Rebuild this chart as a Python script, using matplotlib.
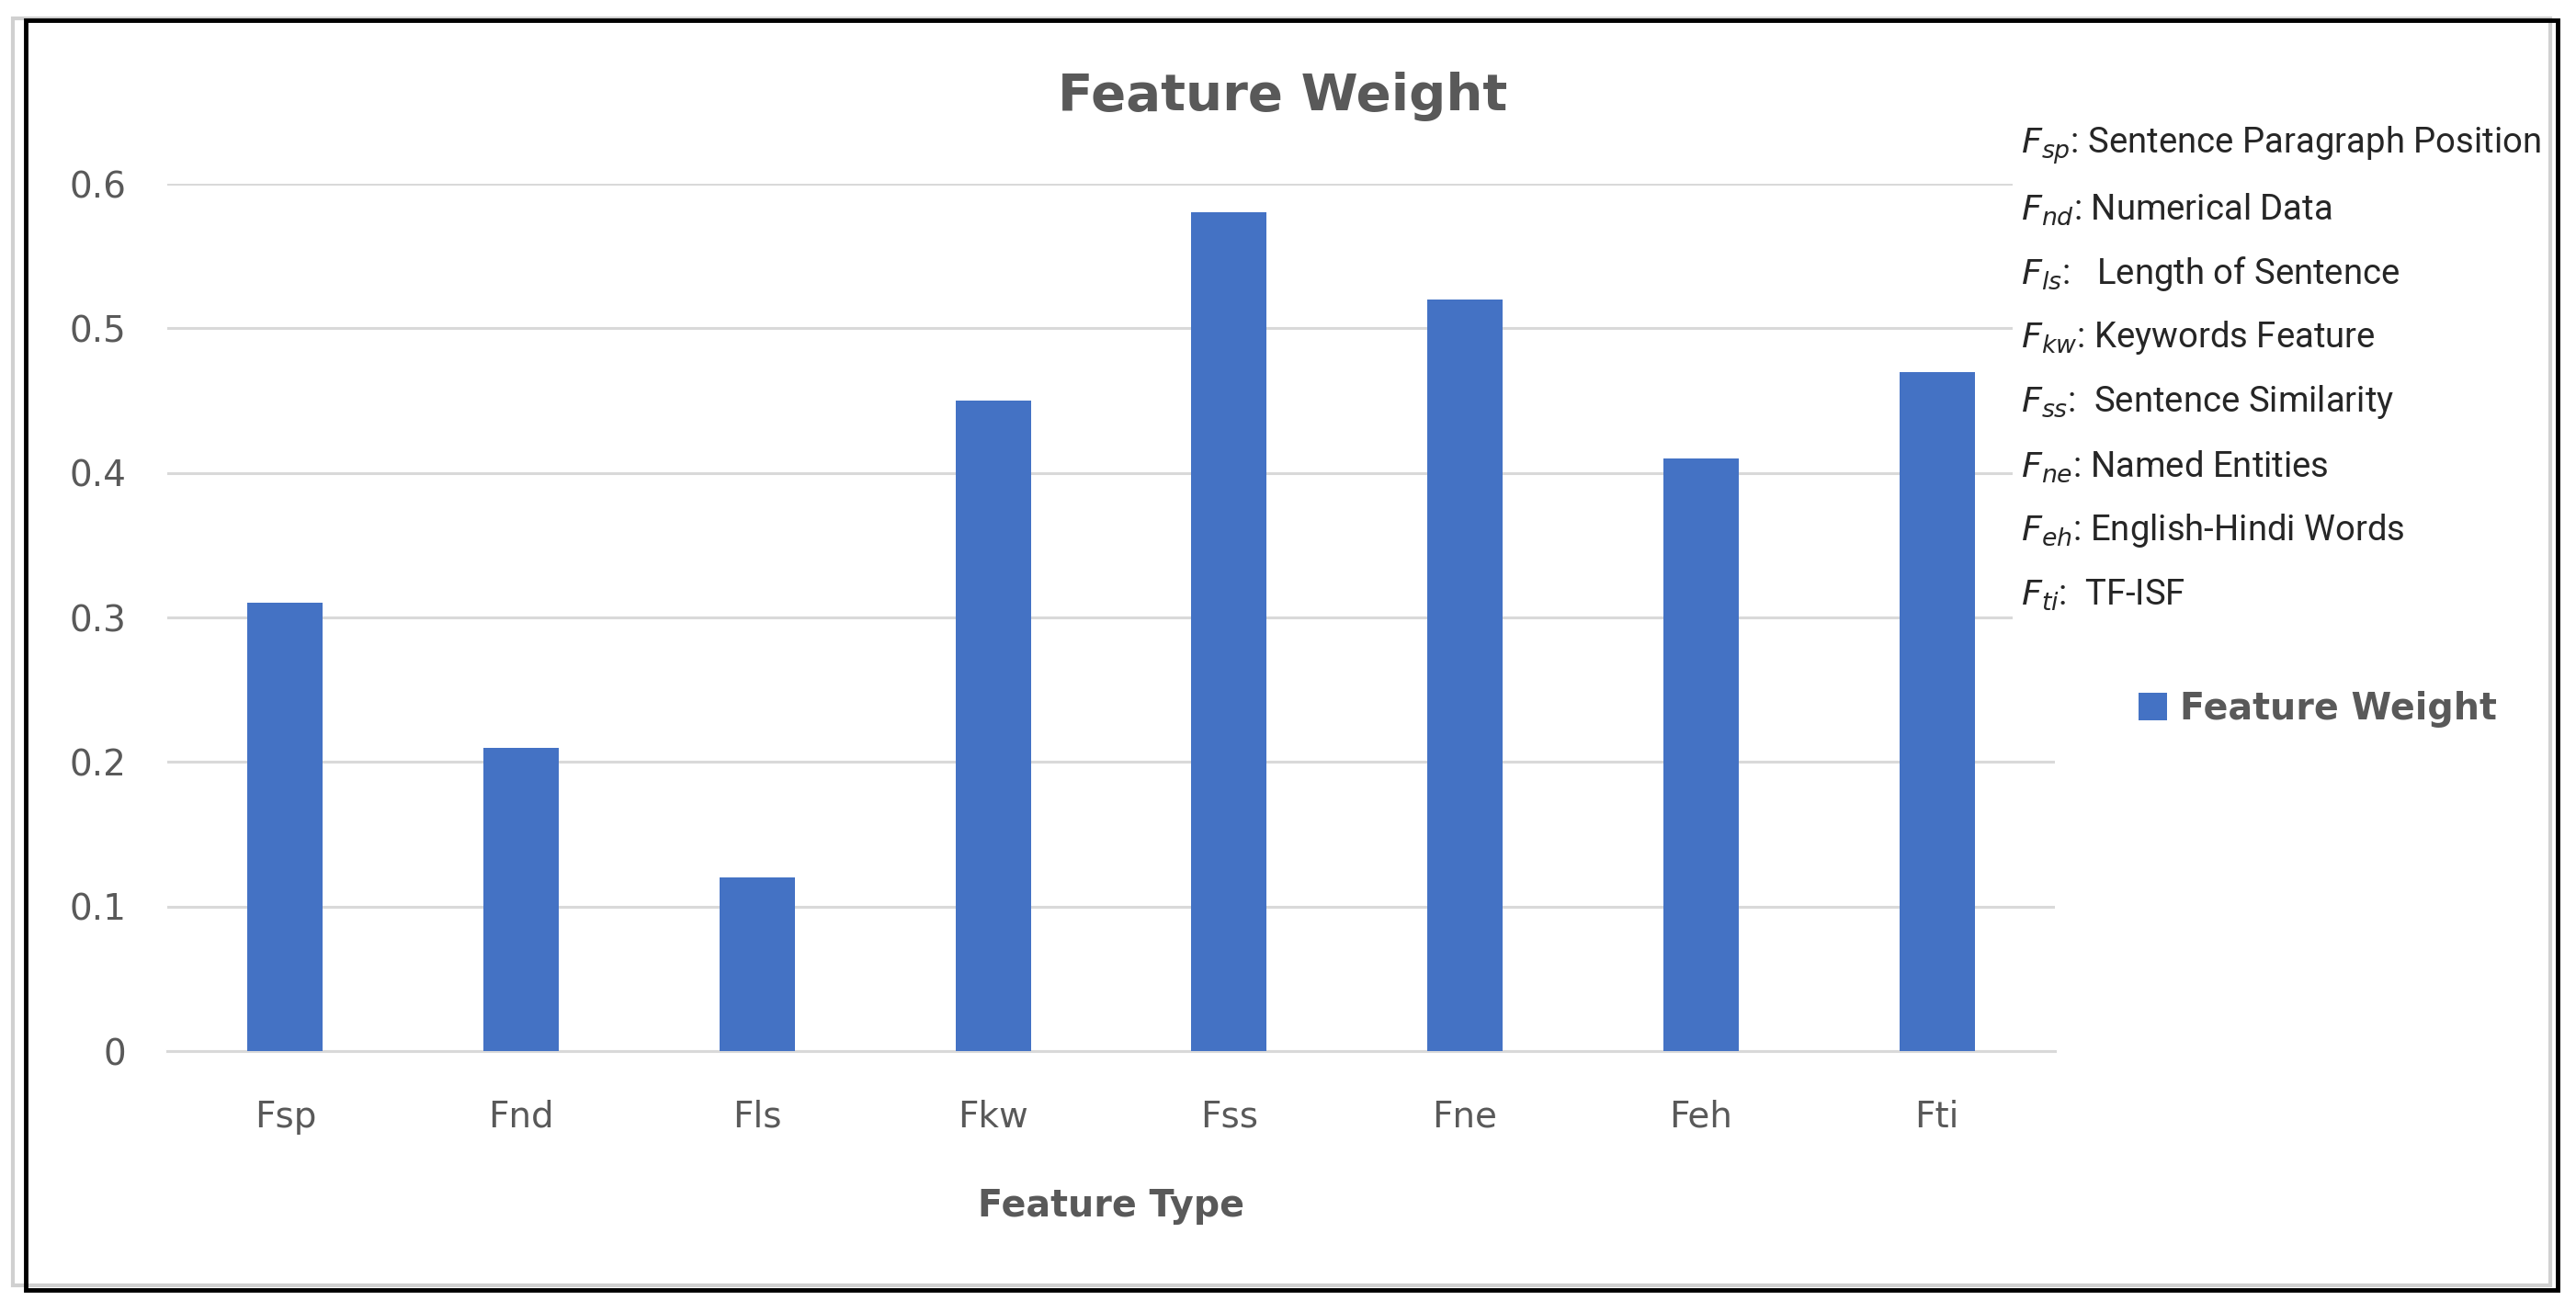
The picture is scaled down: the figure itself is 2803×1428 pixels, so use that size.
import numpy as np
import matplotlib
matplotlib.use('Agg')
import matplotlib.pyplot as plt
from matplotlib.patches import Rectangle

# data
categories = ['Fsp', 'Fnd', 'Fls', 'Fkw', 'Fss', 'Fne', 'Feh', 'Fti']
weights = [0.31, 0.21, 0.12, 0.45, 0.58, 0.52, 0.41, 0.47]
y_ticks = [0, 0.1, 0.2, 0.3, 0.4, 0.5, 0.6]
y_tick_labels = ['0', '0.1', '0.2', '0.3', '0.4', '0.5', '0.6']
codes = ['sp', 'nd', 'ls', 'kw', 'ss', 'ne', 'eh', 'ti']
descriptions = [': Sentence Paragraph Position', ': Numerical Data', ':   Length of Sentence',
                ': Keywords Feature', ':  Sentence Similarity', ': Named Entities',
                ': English-Hindi Words', ':  TF-ISF']

W, H = 2803, 1428
grey = '#595959'
bar_color = '#4472C4'
grid_color = '#D9D9D9'

fig = plt.figure(figsize=(W / 100, H / 100), dpi=100)

# chart frame (grey chart border + black outer box)
fig.patches.append(Rectangle((14 / W, 1 - 1399 / H), (2775 - 14) / W, (1399 - 20) / H,
                             transform=fig.transFigure, fill=False, ec='#D0D0D0', lw=3))
fig.patches.append(Rectangle((28 / W, 1 - 1404 / H), (2783 - 28) / W, (1404 - 22) / H,
                             transform=fig.transFigure, fill=False, ec='black', lw=3.5))

ax = fig.add_axes([182 / W, 1 - 1144 / H, (2236 - 182) / W, (1144 - 200) / H])
x = np.arange(len(categories))
bars = ax.bar(x, weights, width=0.32, color=bar_color, label='Feature Weight', zorder=3)

ax.set_xlim(-0.5, len(categories) - 0.5)
ax.set_ylim(0, 0.6)
ax.set_yticks(y_ticks)
ax.set_yticklabels(y_tick_labels)
ax.set_xticks(x)
ax.set_xticklabels(categories)
ax.tick_params(axis='both', length=0, labelsize=28, labelcolor=grey)
ax.tick_params(axis='y', pad=32)
ax.tick_params(axis='x', pad=38)
ax.grid(axis='y', color=grid_color, lw=2.2, zorder=0)
for s in ['top', 'right', 'left']:
    ax.spines[s].set_visible(False)
ax.spines['bottom'].set_color(grid_color)
ax.spines['bottom'].set_linewidth(2.2)
ax.set_xlabel('Feature Type', fontsize=28.5, fontweight='bold', color=grey, labelpad=42)

fig.suptitle('Feature Weight', x=1396 / W, y=1 - 105 / H, va='center',
             fontsize=40.5, fontweight='bold', color=grey)

fig.legend(handles=[bars], labels=['Feature Weight'], loc='center left',
           bbox_to_anchor=(2291 / W, 1 - 772 / H), frameon=False,
           prop={'size': 28.5, 'weight': 'bold'}, labelcolor=grey,
           handlelength=0.8, handleheight=0.8, handletextpad=0.35)

# white text box with the feature abbreviations
fig.patches.append(Rectangle((2190 / W, 1 - 685 / H), (2772 - 2190) / W, (685 - 115) / H,
                             transform=fig.transFigure, fc='white', ec='none', zorder=5))
for i, (c, d) in enumerate(zip(codes, descriptions)):
    fig.text(2199 / W, 1 - (158 + 70 * i) / H, r'$F_{%s}$' % c + d,
             family=['Liberation Sans Narrow', 'Roboto'], fontsize=27.5,
             color='#262626', va='center', ha='left', zorder=6)

fig.savefig('out.png', dpi=100)
